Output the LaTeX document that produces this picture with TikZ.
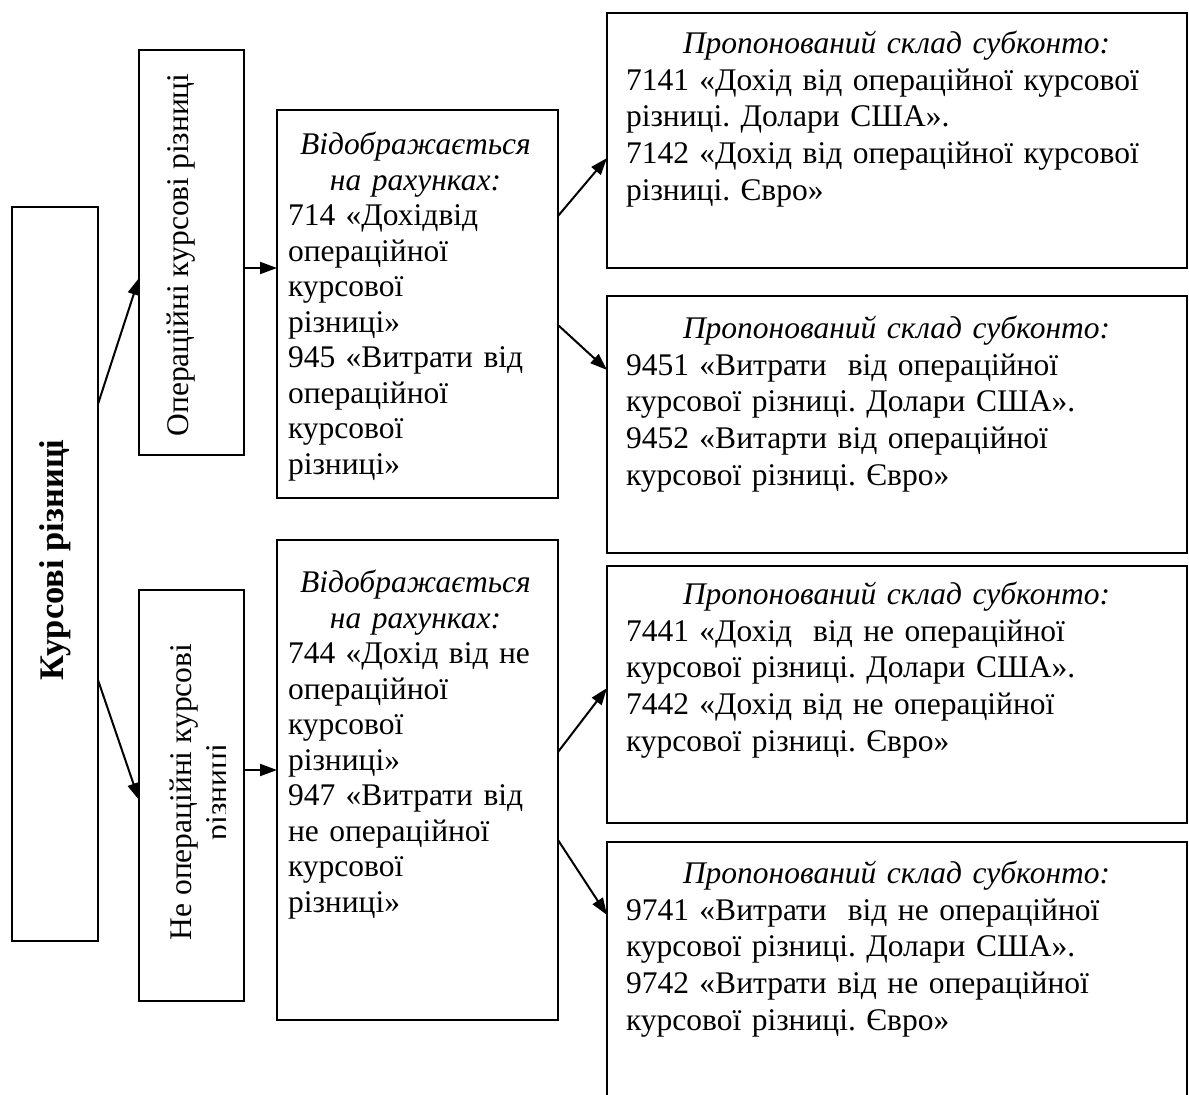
\documentclass[tikz,border=0pt]{standalone}
\usepackage{fontspec}
\setmainfont{Liberation Serif}
\frenchspacing
\usetikzlibrary{arrows.meta}
\begin{document}
\begin{tikzpicture}[x=1pt,y=-1pt,
  box/.style={draw=black,line width=2.2pt,rectangle,inner sep=0pt,outer sep=0pt,anchor=north west},
  midtxt/.style={inner sep=0pt,outer sep=0pt,anchor=north west,align=left,text width=255pt,font=\fontsize{31.5}{35.5}\selectfont},
  rtxt/.style={inner sep=0pt,outer sep=0pt,anchor=north west,align=left,text width=555pt,font=\fontsize{31.5}{36.7}\selectfont},
  vtxt/.style={inner sep=0pt,outer sep=0pt,rotate=90,align=center,font=\fontsize{31.5}{36.5}\selectfont},
  arr/.style={line width=2pt,-{Triangle[length=17pt,width=12pt]}},
]
\useasboundingbox[fill=white] (0,0) rectangle (1189,1095);

% boxes
\node[box,minimum width=86pt,minimum height=734pt] (A) at (12,207) {};
\node[box,minimum width=105pt,minimum height=405pt] (B) at (139,50) {};
\node[box,minimum width=105pt,minimum height=411pt] (C) at (139,590) {};
\node[box,minimum width=281pt,minimum height=388pt] (D) at (277,110) {};
\node[box,minimum width=281pt,minimum height=480pt] (E) at (277,540) {};
\node[box,minimum width=580pt,minimum height=255pt] (R1) at (607,13) {};
\node[box,minimum width=580pt,minimum height=257pt] (R2) at (607,296) {};
\node[box,minimum width=580pt,minimum height=257pt] (R3) at (607,566) {};
\node[box,minimum width=580pt,minimum height=268pt] (R4) at (607,842) {};

% vertical texts
\node[vtxt,font=\fontsize{34.5}{40}\selectfont\bfseries] (At) at (55,560) {Курсові різниці};
\node[vtxt] (Bt) at (181,255) {Операційні курсові різниці};
\begin{scope}
  \clip (141,592) rectangle (225,999);
  \node[vtxt] (Ct) at (202,792) {Не операційні курсові\\різниці};
\end{scope}

% middle texts
\newcommand{\ctr}[1]{\makebox[\linewidth][c]{\itshape #1}}
\node[midtxt] (Dt) at (288,132) {\ctr{Відображається}\\
\ctr{на рахунках:}\\
714 «Дохідвід\\
операційної\\
курсової\\
різниці»\\
945 «Витрати від\\
операційної\\
курсової\\
різниці»};
\node[midtxt] (Et) at (288,570) {\ctr{Відображається}\\
\ctr{на рахунках:}\\
744 «Дохід від не\\
операційної\\
курсової\\
різниці»\\
947 «Витрати від\\
не операційної\\
курсової\\
різниці»};

% right texts
\newcommand{\hdr}{\hspace*{57pt}\textit{Пропонований склад субконто:}}
\node[rtxt] (R1t) at (626,31) {\hdr\\
7141 «Дохід від операційної курсової\\
різниці. Долари США».\\
7142 «Дохід від операційної курсової\\
різниці. Євро»};
\node[rtxt] (R2t) at (626,316) {\hdr\\
9451 «Витрати\ \ від операційної\\
курсової різниці. Долари США».\\
9452 «Витарти від операційної\\
курсової різниці. Євро»};
\node[rtxt] (R3t) at (626,582) {\hdr\\
7441 «Дохід\ \ від не операційної\\
курсової різниці. Долари США».\\
7442 «Дохід від не операційної\\
курсової різниці. Євро»};
\node[rtxt] (R4t) at (626,861) {\hdr\\
9741 «Витрати\ \ від не операційної\\
курсової різниці. Долари США».\\
9742 «Витрати від не операційної\\
курсової різниці. Євро»};

% connectors
\draw[arr] ([yshift=-197pt]A.north east) -- ([yshift=-228pt]B.north west);
\draw[arr] ([yshift=-473pt]A.north east) -- ([yshift=-210pt]C.north west);
\draw[arr] ([yshift=-218pt]B.north east) -- ([yshift=-158pt]D.north west);
\draw[arr] ([yshift=-180pt]C.north east) -- ([yshift=-230pt]E.north west);
\draw[arr] ([yshift=-106pt]D.north east) -- ([yshift=-145pt]R1.north west);
\draw[arr] ([yshift=-215pt]D.north east) -- ([yshift=-74pt]R2.north west);
\draw[arr] ([yshift=-212pt]E.north east) -- ([yshift=-122pt]R3.north west);
\draw[arr] ([yshift=-300pt]E.north east) -- ([yshift=-73pt]R4.north west);
\end{tikzpicture}
\end{document}
